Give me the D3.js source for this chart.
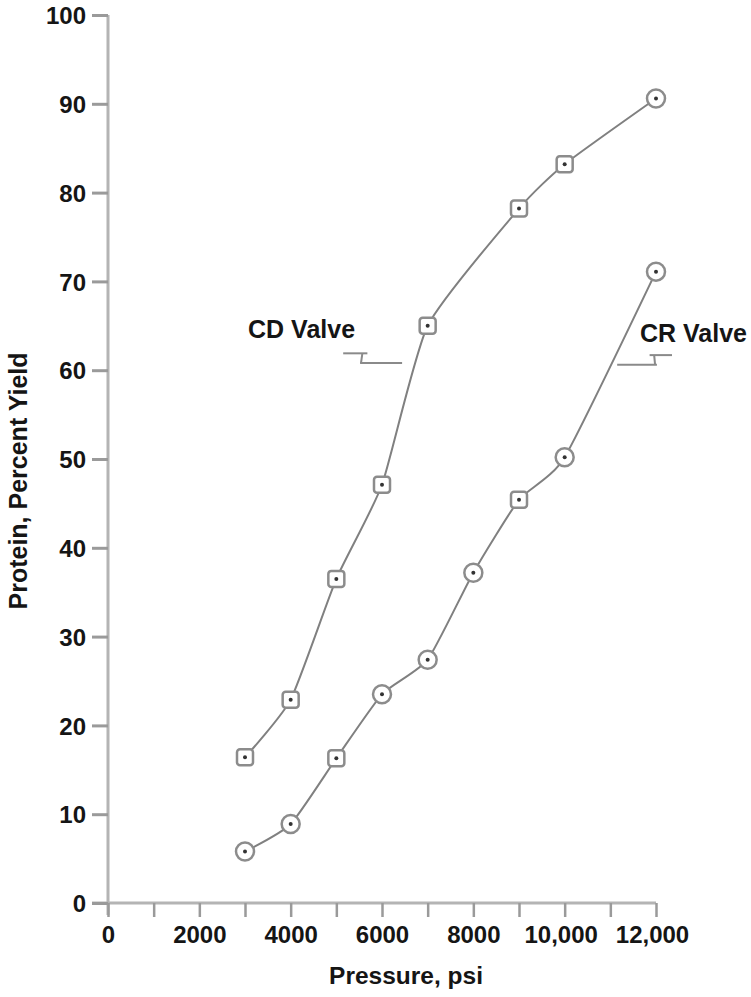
<!DOCTYPE html>
<html>
<head>
<meta charset="utf-8">
<script src="https://cdn.jsdelivr.net/npm/d3@7"></script>
<style>
  body { margin: 0; background: #fff; }
  svg text { font-family: "Liberation Sans", Arial, sans-serif; font-weight: bold; fill: #151515; }
</style>
</head>
<body>
<svg id="chart" width="751" height="997"></svg>
<script>
// values
var cdPressure = [3000, 4000, 5000, 6000, 7000, 9000, 10000, 12000];
var cdYield    = [16.4, 22.9, 36.5, 47.1, 65.0, 78.2, 83.2, 90.6];
var cdMarker   = ["square", "square", "square", "square", "square", "square", "square", "circle"];

var crPressure = [3000, 4000, 5000, 6000, 7000, 8000, 9000, 10000, 12000];
var crYield    = [5.8, 8.9, 16.3, 23.5, 27.4, 37.2, 45.4, 50.2, 71.1];
var crMarker   = ["circle", "circle", "square", "circle", "circle", "circle", "square", "circle", "circle"];

var xTicks = d3.range(0, 12001, 1000);
var yTicks = d3.range(0, 101, 10);

var svg = d3.select("#chart");

var x = d3.scaleLinear().domain([0, 12000]).range([108, 656]);
var y = d3.scaleLinear().domain([0, 100]).range([903, 15]);

var axisColor = "#b4b4b4";
var tickColor = "#9a9a9a";

// axis lines
svg.append("line")
    .attr("x1", x(0)).attr("x2", x(0))
    .attr("y1", y(100)).attr("y2", y(0) + 12)
    .attr("stroke", axisColor).attr("stroke-width", 3);
svg.append("line")
    .attr("x1", x(0) - 16).attr("x2", x(12000))
    .attr("y1", y(0)).attr("y2", y(0))
    .attr("stroke", axisColor).attr("stroke-width", 3);

// y axis
var yAxis = svg.append("g")
    .attr("transform", "translate(" + x(0) + ",0)")
    .call(d3.axisLeft(y).tickValues(yTicks).tickSize(16).tickPadding(6).tickFormat(d3.format("d")));
yAxis.select(".domain").remove();
yAxis.selectAll(".tick line").attr("stroke", tickColor).attr("stroke-width", 3);
yAxis.selectAll(".tick text")
    .style("font-size", "24px")
    .attr("dy", "0.36em");

// x axis
var xAxis = svg.append("g")
    .attr("transform", "translate(0," + y(0) + ")")
    .call(d3.axisBottom(x).tickValues(xTicks).tickSize(14).tickPadding(7)
        .tickFormat(function(d) {
            if (d % 2000 !== 0) return "";
            return d >= 10000 ? d3.format(",")(d) : d;
        }));
xAxis.select(".domain").remove();
xAxis.selectAll(".tick line").attr("stroke", tickColor).attr("stroke-width", 2.5);
xAxis.selectAll(".tick text")
    .style("font-size", "24px")
    .attr("dx", function(d) { return d >= 10000 ? -4 : 0; })
    .attr("dy", "0.8em");

// axis titles
svg.append("text")
    .attr("x", 406).attr("y", 984)
    .attr("text-anchor", "middle")
    .style("font-size", "24.5px")
    .text("Pressure, psi");

svg.append("text")
    .attr("transform", "translate(27,481) rotate(-90)")
    .attr("text-anchor", "middle")
    .style("font-size", "25px")
    .text("Protein, Percent Yield");

// curves
var line = d3.line()
    .x(function(d) { return x(d[0]); })
    .y(function(d) { return y(d[1]); })
    .curve(d3.curveCardinal.tension(0.45));

function drawSeries(px, py, shapes) {
    var pts = px.map(function(p, i) { return [p, py[i], shapes[i]]; });

    svg.append("path")
        .datum(pts)
        .attr("d", line)
        .attr("fill", "none")
        .attr("stroke", "#808080")
        .attr("stroke-width", 2);

    var g = svg.append("g").selectAll("g")
        .data(pts)
        .enter().append("g")
        .attr("transform", function(d) { return "translate(" + x(d[0]) + "," + y(d[1]) + ")"; });

    g.filter(function(d) { return d[2] === "square"; })
        .append("rect")
        .attr("x", -8).attr("y", -8)
        .attr("width", 16).attr("height", 16)
        .attr("rx", 3)
        .attr("fill", "#fff")
        .attr("stroke", "#8c8c8c")
        .attr("stroke-width", 2.5);

    g.filter(function(d) { return d[2] === "circle"; })
        .append("circle")
        .attr("r", 9)
        .attr("fill", "#fff")
        .attr("stroke", "#8c8c8c")
        .attr("stroke-width", 2.5);

    g.append("circle")
        .attr("r", 2)
        .attr("fill", "#333");
}

drawSeries(cdPressure, cdYield, cdMarker);
drawSeries(crPressure, crYield, crMarker);

// labels with leader lines (in data units)
var cdLeader = [[[5150, 61.9], [5680, 61.9]], [[5570, 61.9], [5540, 60.8]], [[5520, 60.8], [6440, 60.8]]];
var crLeader = [[[11150, 60.6], [12020, 60.6]], [[11980, 60.6], [11960, 61.7]], [[11860, 61.7], [12350, 61.7]]];

var seg = d3.line()
    .x(function(d) { return x(d[0]); })
    .y(function(d) { return y(d[1]); });

[cdLeader, crLeader].forEach(function(l) {
    svg.append("g").selectAll("path")
        .data(l)
        .enter().append("path")
        .attr("d", seg)
        .attr("fill", "none")
        .attr("stroke", "#8a8a8a")
        .attr("stroke-width", 2);
});

svg.append("text")
    .attr("x", x(5410)).attr("y", y(63.6))
    .attr("text-anchor", "end")
    .style("font-size", "25px")
    .text("CD Valve");

svg.append("text")
    .attr("x", x(11650)).attr("y", y(63.2))
    .style("font-size", "25px")
    .text("CR Valve");
</script>
</body>
</html>
